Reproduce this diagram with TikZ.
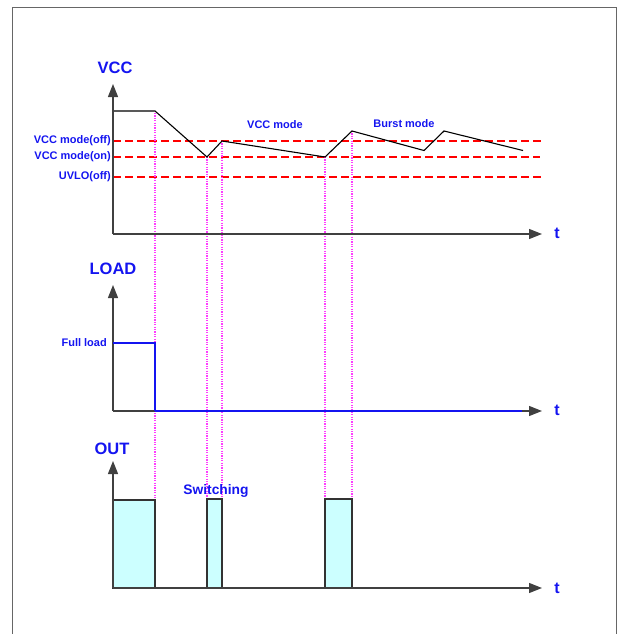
\documentclass[tikz,border=0pt]{standalone}
\usepackage{fontspec}
\setmainfont{Liberation Sans}
\usetikzlibrary{arrows.meta}
\definecolor{lblue}{RGB}{20,20,240}
\definecolor{pulse}{RGB}{204,255,255}
\definecolor{pink}{RGB}{255,60,255}
\begin{document}
\begin{tikzpicture}[x=1pt,y=-1pt,
  axis/.style={draw=black!75,line width=1.3pt,-{Triangle[length=13pt,width=10pt]}},
  lbl/.style={text=lblue,font=\bfseries\fontsize{11}{12}\selectfont,inner sep=0pt},
  biglbl/.style={text=lblue,font=\bfseries\fontsize{16.5}{18}\selectfont,inner sep=0pt},
  tlbl/.style={text=lblue,font=\bfseries\fontsize{16}{18}\selectfont,inner sep=0pt},
  lvl/.style={draw=red,line width=1.5pt,dash pattern=on 8pt off 4pt},
  guide/.style={draw=pink,line width=1.2pt,dash pattern=on 1.2pt off 1.2pt},
  curve/.style={draw=black,line width=1.1pt},
  loadline/.style={draw=lblue,line width=2pt},
  pulsebox/.style={draw=black!80,line width=1.3pt,fill=pulse}]
\useasboundingbox (0,0) rectangle (622,634);
% frame
\draw[draw=black!60,line width=1.8pt] (12.5,634) -- (12.5,7.5) -- (616.5,7.5) -- (616.5,634);

% ---------- VCC ----------
\coordinate (vo) at (113,234);
\coordinate (vy) at (113,84);
\coordinate (vx) at (542,234);
\node[biglbl] (vcc) at (115,68) {VCC};
\node[tlbl] (vt) at (557,233) {t};
% levels
\coordinate (offa) at (113,141); \coordinate (offb) at (543,141);
\coordinate (ona) at (113,157); \coordinate (onb) at (540,157);
\coordinate (uva) at (113,177); \coordinate (uvb) at (543,177);
\draw[lvl] (offa) -- (offb);
\draw[lvl] (ona) -- (onb);
\draw[lvl] (uva) -- (uvb);
\node[lbl,anchor=east] (loff) at (111,140.5) {VCC mode(off)};
\node[lbl,anchor=east] (lon) at (111,157) {VCC mode(on)};
\node[lbl,anchor=east] (luv) at (111,177) {UVLO(off)};
\node[lbl] (mvcc) at (275,125) {VCC mode};
\node[lbl] (mburst) at (404,124) {Burst mode};

% guides
\coordinate (g1t) at (155,113); \coordinate (g1b) at (155,498);
\coordinate (g2t) at (207,157); \coordinate (g2b) at (207,498);
\coordinate (g3t) at (222,141); \coordinate (g3b) at (222,498);
\coordinate (g4t) at (325,157); \coordinate (g4b) at (325,498);
\coordinate (g5t) at (352,131); \coordinate (g5b) at (352,498);
\draw[guide] (g1t) -- (g1b);
\draw[guide] (g2t) -- (g2b);
\draw[guide] (g3t) -- (g3b);
\draw[guide] (g4t) -- (g4b);
\draw[guide] (g5t) -- (g5b);

% curve
\coordinate (c0) at (113,111);
\coordinate (c1) at (155,111);
\coordinate (c2) at (207,157);
\coordinate (c3) at (222,141);
\coordinate (c4) at (325,157);
\coordinate (c5) at (352,131);
\coordinate (c6) at (424,150.5);
\coordinate (c7) at (444,131);
\coordinate (c8) at (523,150.5);
\draw[curve] (c0) -- (c1) -- (c2) -- (c3) -- (c4) -- (c5) -- (c6) -- (c7) -- (c8);
\draw[axis] (vo) -- (vy);
\draw[axis] (vo) -- (vx);

% ---------- LOAD ----------
\coordinate (lo) at (113,411);
\coordinate (ly) at (113,285);
\coordinate (lx) at (542,411);
\node[biglbl] (load) at (113,269) {LOAD};
\node[tlbl] (lt) at (557,410) {t};
\node[lbl,anchor=east] (full) at (107,343) {Full load};
\draw[axis] (lo) -- (ly);
\draw[axis] (lo) -- (lx);
\coordinate (f0) at (113,343);
\coordinate (f1) at (155,343);
\coordinate (f2) at (155,411);
\coordinate (f3) at (522,411);
\draw[loadline] (f0) -- (f1) -- (f2);
\draw[loadline] (f2) -- (f3);

% ---------- OUT ----------
\coordinate (oo) at (113,588);
\coordinate (oy) at (113,461);
\coordinate (ox) at (542,588);
\node[biglbl] (out) at (112,449) {OUT};
\node[tlbl] (ot) at (557,588) {t};
\node[lbl,font=\bfseries\fontsize{13.8}{15}\selectfont] (sw) at (216,491) {Switching};
\draw[pulsebox] (113,588) rectangle (155,500);
\draw[pulsebox] (207,588) rectangle (222,499);
\draw[pulsebox] (325,588) rectangle (352,499);
\draw[axis] (oo) -- (oy);
\draw[axis] (oo) -- (ox);
\end{tikzpicture}
\end{document}
